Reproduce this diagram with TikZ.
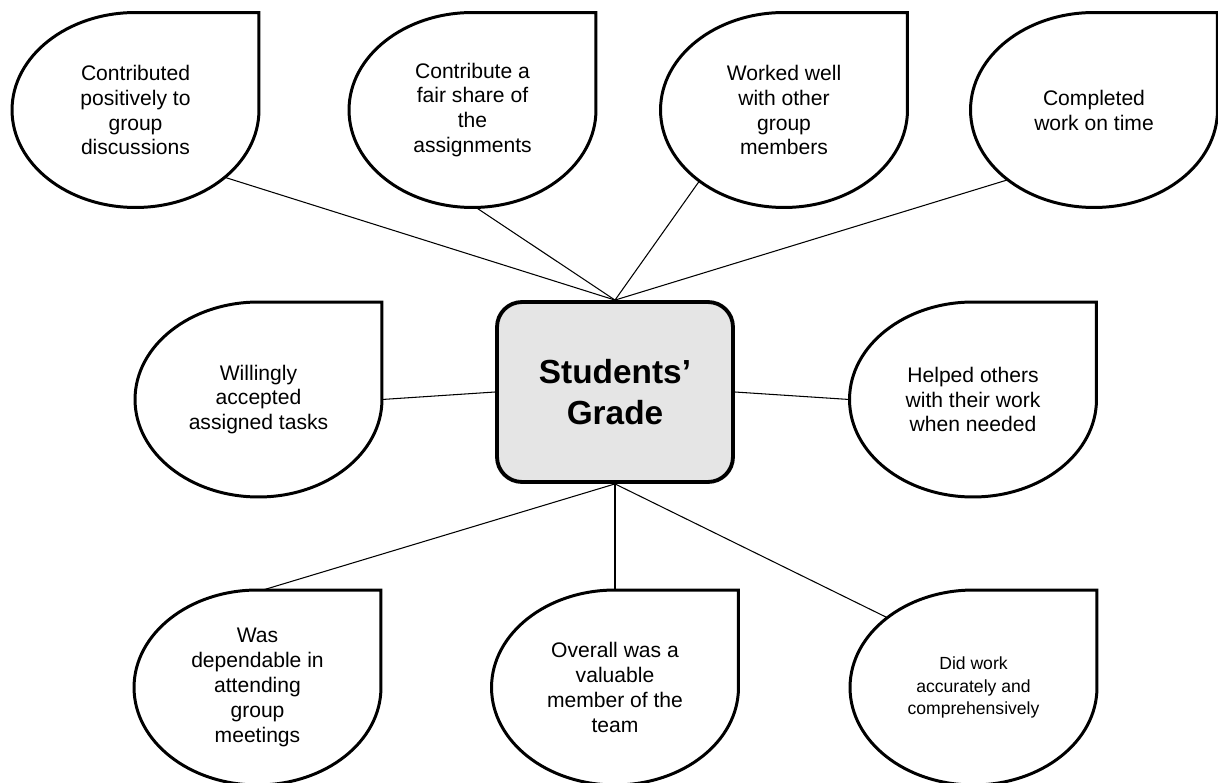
\documentclass[tikz,border=0pt]{standalone}
\usepackage{fontspec}
\setmainfont{Liberation Sans}
\usetikzlibrary{shapes.geometric}

\begin{document}
\begin{tikzpicture}
[x=0.02cm,y=0.02cm,%
  dropDecorate/.style={shape=ellipse,inner sep=0pt,outer sep=0pt,
    minimum width=4.94cm,minimum height=3.9cm,align=center,
    font=\fontsize{12}{14.2}\selectfont},%
  dropLine/.style={draw,line width=1.7pt,line join=miter},%
  gradeDecorate/.style={shape=rectangle,draw,line width=2.2pt,fill=gray!20,
    rounded corners=0.5cm,minimum width=4.72cm,minimum height=3.6cm,
    align=center,font=\fontsize{19}{23.6}\selectfont\bfseries},%
  lineDecorate/.style={draw,line width=0.6pt}]
\useasboundingbox (0,0) rectangle (1218,782);
%% centre box
\node (grade) at (615,390) [gradeDecorate] {Students'\\Grade};
%% drops
\foreach \nodename/\x/\y/\txt in {
  discuss/135.5/672/{Contributed\\positively to\\group\\discussions},
  share/472.5/672/{Contribute a\\fair share of\\the\\assignments},
  teamwork/784/672/{Worked well\\with other\\group\\members},
  ontime/1094/672/{Completed\\work on time},
  tasks/258.5/382.5/{Willingly\\accepted\\assigned tasks},
  helped/973/382.5/{Helped others\\with their work\\when needed},
  meetings/257.5/94.5/{Was\\dependable in\\attending\\group\\meetings},
  valuable/615/94.5/{Overall was a\\valuable\\member of the\\team}}
{
  \node (\nodename) at (\x,\y) [dropDecorate] {\txt};
}
\node (accurate) at (973.5,94.5) [dropDecorate,font=\fontsize{10}{12.8}\selectfont]
  {Did work\\accurately and\\comprehensively};
%% drop outlines
\foreach \nodename in {discuss,share,teamwork,ontime,tasks,helped,meetings,valuable,accurate}
{
  \draw[dropLine] (\nodename.north) -- (\nodename.north -| \nodename.east)
    -- (\nodename.east) arc[start angle=0,end angle=-270,x radius=2.47cm,y radius=1.95cm]
    -- cycle;
}
%% connectors
\path
\foreach \startnode/\endnode in {
  discuss.-37/grade.north, share.-88/grade.north, teamwork.220/grade.north,
  ontime.219/grade.north, tasks.east/grade.west, grade.east/helped.west,
  grade.south/meetings.87, grade.south/valuable.north, grade.south/accurate.141}
{
  (\startnode) edge[lineDecorate] (\endnode)
};
\end{tikzpicture}
\end{document}
